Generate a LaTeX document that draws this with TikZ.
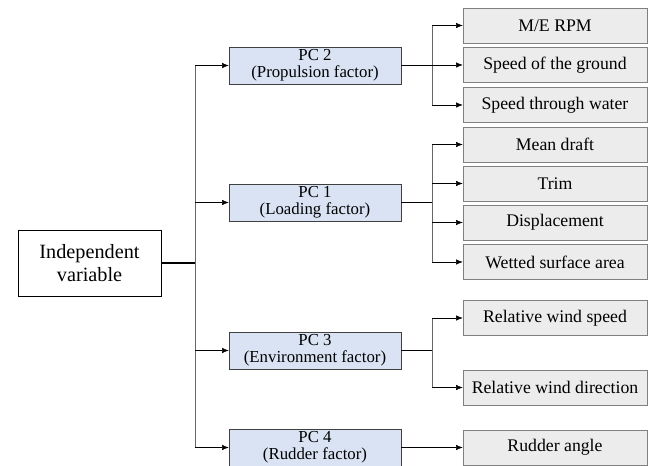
\documentclass[tikz,border=0pt]{standalone}
\usepackage{fontspec}
\setmainfont{Liberation Serif}
\usepackage{tikz}
\usetikzlibrary{positioning,arrows.meta}
\definecolor{pcblue}{RGB}{218,227,243}
\definecolor{leafgray}{RGB}{236,236,236}

\begin{document}
\begin{tikzpicture}[x=0.75pt, y=-0.75pt, >={Latex[length=5pt,width=4pt]},
    pc node/.style={rectangle, draw=black!75, fill=pcblue, minimum width=129pt, minimum height=27.5pt, inner sep=0pt, align=center, font=\fontsize{12.6}{13}\selectfont},
    leaf node/.style={rectangle, draw=black!50, fill=leafgray, minimum width=138pt, minimum height=26.5pt, inner sep=0pt, font=\fontsize{13.3}{15}\selectfont},
    main node/.style={rectangle, draw, minimum width=107pt, minimum height=49.5pt, align=center, font=\fontsize{15.2}{17}\selectfont}]

                \useasboundingbox (0,0) rectangle (652,466);

                \node[main node] (iv) at (89.5,263) {Independent\\variable};

                \node[pc node] (pc2) at (315,65.5) {PC 2\\(Propulsion factor)};
                \node[pc node] (pc1) at (315,202.5) {PC 1\\(Loading factor)};
                \node[pc node] (pc3) at (315,350.5) {PC 3\\(Environment factor)};
                \node[pc node] (pc4) at (315,447.5) {PC 4\\(Rudder factor)};

                \node[leaf node] (a1) at (555,25.5) {M/E RPM};
                \node[leaf node] (a2) at (555,65) {Speed of the ground};
                \node[leaf node] (a3) at (555,105) {Speed through water};
                \node[leaf node] (b1) at (555,144.5) {Mean draft};
                \node[leaf node] (b2) at (555,183.5) {Trim};
                \node[leaf node] (b3) at (555,222.5) {Displacement};
                \node[leaf node] (b4) at (555,262) {Wetted surface area};
                \node[leaf node] (c1) at (555,318) {Relative wind speed};
                \node[leaf node] (c2) at (555,387.5) {Relative wind direction};
                \node[leaf node] (d1) at (555,447.5) {Rudder angle};

                \coordinate (trunk) at (195,0);
                \coordinate (fork) at (432,0);

                % independent variable to the four factors
                \draw[thick] (iv.east) -- (iv.east -| trunk);
                \draw[black!60] (pc2.west -| trunk) -- (pc4.west -| trunk);
                \foreach \n in {pc1,pc2,pc3,pc4}
                    \draw[->] (\n.west -| trunk) -- (\n.west);

                % factors to their variables
                \draw[thick] (pc2.east) -- (pc2.east -| fork);
                \draw[thick] (pc1.east) -- (pc1.east -| fork);
                \draw[thick] (pc3.east) -- (pc3.east -| fork);
                \draw[black!60] (a1.west -| fork) -- (a3.west -| fork);
                \draw[black!60] (b1.west -| fork) -- (b4.west -| fork);
                \draw[black!60] (c1.west -| fork) -- (c2.west -| fork);
                \foreach \n in {a1,a2,a3,b1,b2,b3,b4,c1,c2}
                    \draw[->] (\n.west -| fork) -- (\n.west);
                \draw[->] (pc4.east) -- (d1.west);
            \end{tikzpicture}
\end{document}
